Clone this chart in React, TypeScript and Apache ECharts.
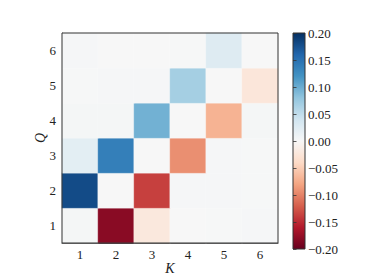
import React, { useEffect, useRef } from "react";
import * as echarts from "echarts";

const kLabels = ["1", "2", "3", "4", "5", "6"];
const qLabels = ["1", "2", "3", "4", "5", "6"];
// values per row Q (bottom to top), across K = 1..6
const rowQ1 = [0.003, -0.182, -0.022, 0.0005, 0.001, 0.002];
const rowQ2 = [0.18, 0.0, -0.138, 0.002, 0.002, 0.001];
const rowQ3 = [0.021, 0.138, 0.0, -0.093, 0.002, 0.001];
const rowQ4 = [0.003, 0.003, 0.096, 0.0, -0.07, 0.003];
const rowQ5 = [0.001, 0.002, 0.002, 0.068, 0.0, -0.024];
const rowQ6 = [0.002, 0.0005, 0.0005, 0.001, 0.026, 0.0];
const rows = [rowQ1, rowQ2, rowQ3, rowQ4, rowQ5, rowQ6];

const vMin = -0.2;
const vMax = 0.2;
const cbInterval = 0.05;
// RdBu (red = low, blue = high)
const rdbu = [
  "#67001f", "#b2182b", "#d6604d", "#f4a582", "#fddbc7", "#f7f7f7",
  "#d1e5f0", "#92c5de", "#4393c3", "#2166ac", "#053061",
];

const FONT = "'Liberation Serif', 'DejaVu Serif', serif";

export default function App() {
  const ref = useRef<HTMLDivElement>(null);
  useEffect(() => {
    if (!ref.current) return;
    const chart = echarts.init(ref.current, null, { renderer: "svg" });
    const data: number[][] = [];
    rows.forEach((row, qi) => row.forEach((v, ki) => data.push([ki, qi, v])));
    const stops = rdbu
      .slice()
      .reverse()
      .map((c, i) => ({ offset: i / (rdbu.length - 1), color: c }));
    const axisLine = { lineStyle: { color: "#333", width: 1 } };
    const axisTick = { length: 3.5, lineStyle: { color: "#333", width: 0.8 } };
    const axisLabel = { color: "#222", fontFamily: FONT, fontSize: 13 };
    chart.setOption({
      animation: false,
      backgroundColor: "#fff",
      textStyle: { fontFamily: FONT },
      grid: [
        {
          left: 62, top: 33, width: 216, height: 216,
          show: true, z: 10, backgroundColor: "transparent",
          borderColor: "#333", borderWidth: 1,
        },
        {
          left: 293, top: 33, width: 12, height: 216,
          show: true,
          backgroundColor: new echarts.graphic.LinearGradient(0, 0, 0, 1, stops),
          borderColor: "#333", borderWidth: 1,
        },
      ],
      xAxis: [
        {
          type: "category", gridIndex: 0, data: kLabels,
          axisLine, axisTick: { ...axisTick, alignWithLabel: true },
          axisLabel: { ...axisLabel, margin: 5 },
          splitLine: { show: false },
          name: "K", nameLocation: "middle", nameGap: 18, nameMoveOverlap: false,
          nameTextStyle: { fontFamily: FONT, fontStyle: "italic", fontSize: 14, color: "#222" },
        },
        { type: "value", gridIndex: 1, show: false, min: 0, max: 1 },
      ],
      yAxis: [
        {
          type: "category", gridIndex: 0, data: qLabels,
          axisLine, axisTick: { ...axisTick, alignWithLabel: true },
          axisLabel: { ...axisLabel, margin: 6 },
          splitLine: { show: false },
          name: "Q", nameLocation: "middle", nameGap: 15, nameMoveOverlap: false,
          nameTextStyle: { fontFamily: FONT, fontStyle: "italic", fontSize: 14, color: "#222" },
        },
        {
          type: "value", gridIndex: 1, position: "right",
          min: vMin, max: vMax, interval: cbInterval,
          axisLine: { show: false },
          axisTick: { show: true, length: 3.5, lineStyle: { color: "#333", width: 0.8 } },
          splitLine: { show: false },
          axisLabel: {
            ...axisLabel, margin: 3,
            formatter: (v: number) => {
              const s = Math.abs(v).toFixed(2);
              return v < -1e-9 ? "\u2212" + s : s;
            },
          },
        },
      ],
      visualMap: {
        show: false, type: "continuous", min: vMin, max: vMax,
        seriesIndex: 0, inRange: { color: rdbu },
      },
      series: [
        {
          type: "heatmap", xAxisIndex: 0, yAxisIndex: 0, data,
          itemStyle: { borderColor: "rgba(255,255,255,0.22)", borderWidth: 1 },
          emphasis: { disabled: true },
        },
      ],
    });
    return () => chart.dispose();
  }, []);
  return (
    <div
      ref={ref}
      style={{ position: "fixed", left: 0, top: 0, width: 374, height: 280, background: "#fff" }}
    />
  );
}
